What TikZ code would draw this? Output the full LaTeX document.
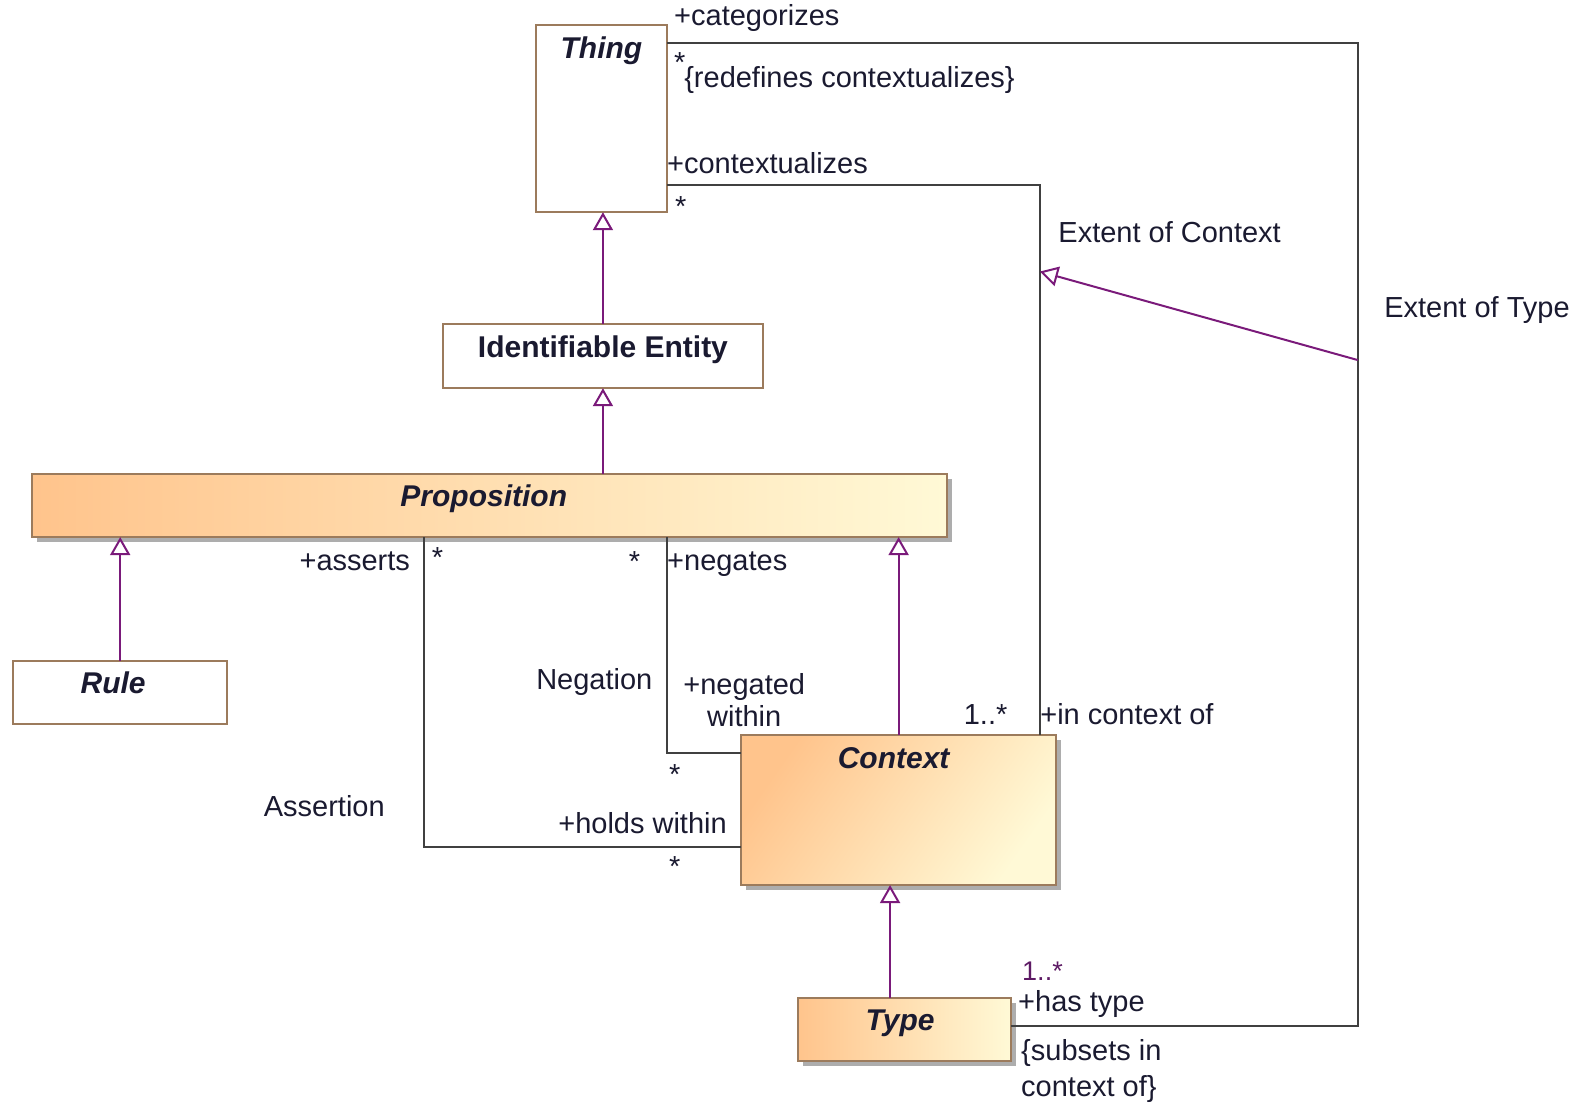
\documentclass[tikz,border=0pt]{standalone}
\usepackage{fontspec}
\setmainfont{Liberation Sans}
\usetikzlibrary{arrows.meta,shadows}
\newdimen\pxu \pxu=0.503pt
\definecolor{rand}{HTML}{9C7B5C}
\definecolor{lila}{HTML}{7A1A7A}
\definecolor{linie}{HTML}{404040}
\definecolor{orangehell}{HTML}{FFC48C}
\definecolor{gelbhell}{HTML}{FFF9D6}
\definecolor{schrift}{HTML}{1A1A30}

\begin{document}
\begin{tikzpicture}[x=0.503pt, y=-0.503pt,
font=\fontsize{14.5}{16}\selectfont, text=schrift,
klasse/.style={draw=rand, line width=1pt, fill=white, inner sep=0pt, outer sep=0pt},
verlauf/.style={left color=orangehell, right color=gelbhell},
schatten/.style={drop shadow={shadow xshift=2.5pt, shadow yshift=-2.5pt, fill=black!40, opacity=.8}},
titel/.style={anchor=base, yshift=-33\pxu, font=\fontsize{15}{17}\selectfont\bfseries\itshape},
gen/.style={draw=lila, line width=1pt, -{Triangle[open, length=9pt, width=10pt]}},
assoz/.style={draw=linie, line width=1pt},
rolle/.style={inner sep=1pt},
]
\useasboundingbox (0,0) rectangle (1568,1099);

% Klassen
\node[klasse, minimum width=130\pxu, minimum height=186\pxu,
  label={[titel]north:Thing}] (thing) at (598,118) {};
\node[klasse, minimum width=319\pxu, minimum height=64\pxu,
  label={[titel, font=\fontsize{15}{17}\selectfont\bfseries]north:Identifiable Entity}] (ie) at (599.5,354) {};
\node[klasse, verlauf, schatten, minimum width=910\pxu, minimum height=63\pxu,
  label={[titel, xshift=-6\pxu]north:Proposition}] (prop) at (487,502.5) {};
\node[klasse, minimum width=213\pxu, minimum height=63\pxu,
  label={[titel, xshift=-7\pxu]north:Rule}] (rule) at (119.5,688.5) {};
\node[klasse, verlauf, shading angle=55, schatten, minimum width=313\pxu, minimum height=149\pxu,
  label={[titel, xshift=-5\pxu]north:Context}] (context) at (893.5,805.5) {};
\node[klasse, verlauf, schatten, minimum width=212\pxu, minimum height=63\pxu,
  label={[titel, xshift=-4\pxu]north:Type}] (type) at (899,1023.5) {};

% Knickpunkte
\coordinate (katknick) at (1350,43);
\coordinate (ctxknick) at (1034,184);
\coordinate (asknick) at (422,842);
\coordinate (negknick) at (663,749);
\coordinate (typext) at (1350,358);
\coordinate (ctxext) at (1034,270);

% Assoziationen
\draw[assoz] (thing.east |- katknick) -- (katknick) |- ([yshift=3.5\pxu]type.east);
\draw[assoz] (thing.east |- ctxknick) -- (ctxknick) -- (ctxknick |- context.north);
\draw[assoz] (prop.south -| asknick) -- (asknick) -- (context.west |- asknick);
\draw[assoz] (prop.south -| negknick) -- (negknick) -- (context.west |- negknick);

% Generalisierungen
\draw[gen] (ie.north) -- (ie.north |- thing.south);
\draw[gen] (prop.north -| ie.north) -- (ie.south);
\draw[gen] (rule.north) -- (rule.north |- prop.south);
\draw[gen] (context.north) -- (context.north |- prop.south);
\draw[gen] (type.north -| 885,0) -- (context.south -| 885,0);
\draw[gen] (typext) -- (ctxext);

% Rollen und Namen
\node[rolle, anchor=west] (kat) at (668,18) {+categorizes};
\node[rolle] (katm) at (676,62) {*};
\node[rolle, anchor=west] (redef) at (678,80) {\{redefines contextualizes\}};
\node[rolle, anchor=west] (ctxr) at (661,162) {+contextualizes};
\node[rolle] (ctxm) at (677,205) {*};
\node[rolle, anchor=west] (extctx) at (1050,231) {Extent of Context};
\node[rolle, anchor=west] (exttype) at (1374,308) {Extent of Type};
\node[rolle, anchor=east] (asserts) at (410,558) {+asserts};
\node[rolle] (asm) at (435,554) {*};
\node[rolle] (negm) at (631,558) {*};
\node[rolle, anchor=west] (negates) at (661,561) {+negates};
\node[rolle, anchor=east] (negation) at (651,678) {Negation};
\node[rolle, align=center] (negwithin) at (740,696) {+negated\\within};
\node[rolle] (negwm) at (671,770) {*};
\node[rolle, anchor=west] (assertion) at (260,802) {Assertion};
\node[rolle, anchor=east] (holds) at (725,818) {+holds within};
\node[rolle] (holdsm) at (671,862) {*};
\node[rolle, anchor=east] (ctxmult) at (1004,710) {1..*};
\node[rolle, anchor=west] (incontext) at (1032,710) {+in context of};
\node[rolle, inner sep=0pt, anchor=west, text=lila!70!schrift, font=\fontsize{13.5}{15}\selectfont] (typemult) at (1016,966) {1..*};
\node[rolle, inner sep=0pt, anchor=west] (hastype) at (1012,998) {+has type};
\node[rolle, anchor=west, align=left, font=\fontsize{14.5}{18}\selectfont] (subsets) at (1013,1065) {\{subsets in\\context of\}};
\end{tikzpicture}
\end{document}
